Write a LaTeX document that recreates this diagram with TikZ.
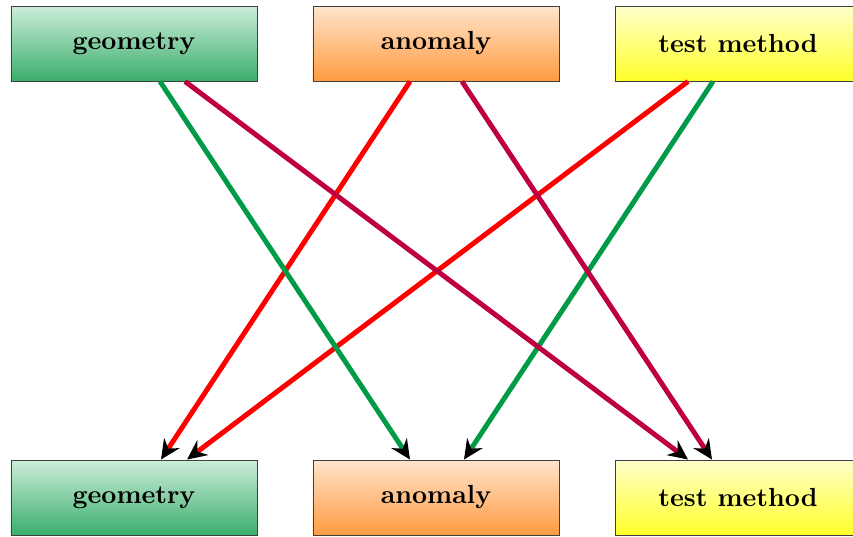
\documentclass[tikz,border=0pt]{standalone}
\usetikzlibrary{arrows.meta,calc}
\definecolor{lgreen}{RGB}{0,155,72}
\definecolor{lred}{RGB}{255,0,0}
\definecolor{lpurple}{RGB}{191,0,64}
\definecolor{gtop}{RGB}{205,237,218}
\definecolor{gbot}{RGB}{58,174,108}
\definecolor{otop}{RGB}{255,228,204}
\definecolor{obot}{RGB}{255,155,64}
\definecolor{ytop}{RGB}{255,255,205}
\definecolor{ybot}{RGB}{255,255,40}
\tikzset{
  box/.style={draw=black!75, line width=0.35pt, minimum width=94pt, minimum height=28.65pt, inner sep=0pt, font=\bfseries},
  gbox/.style={box, top color=gtop, bottom color=gbot},
  obox/.style={box, top color=otop, bottom color=obot},
  ybox/.style={box, top color=ytop, bottom color=ybot},
  link/.style={line width=1.9pt, -{Stealth[black, length=7.5pt, width=7pt, inset=2.5pt]}, shorten >=0pt}
}
\begin{document}
\begin{tikzpicture}[x=0.382pt, y=-0.382pt]
\useasboundingbox (0,0) rectangle (853,536);
\node[gbox] (g1) at (134,43.5) {geometry};
\node[obox] (a1) at (436,43.5) {anomaly};
\node[ybox] (t1) at (738,43.5) {test method};
\node[gbox] (g2) at (134,497.5) {geometry};
\node[obox] (a2) at (436,497.5) {anomaly};
\node[ybox] (t2) at (738,497.5) {test method};
% red
\draw[link, draw=lred] ($(a1.south)+(-26,0)$) -- ($(g2.north)+(27,0)$);
\draw[link, draw=lred] ($(t1.south)+(-50,0)$) -- ($(g2.north)+(53,0)$);
% green
\draw[link, draw=lgreen] ($(g1.south)+(26,0)$) -- ($(a2.north)+(-26,0)$);
\draw[link, draw=lgreen] ($(t1.south)+(-25,0)$) -- ($(a2.north)+(28,0)$);
% purple
\draw[link, draw=lpurple] ($(g1.south)+(51,0)$) -- ($(t2.north)+(-50,0)$);
\draw[link, draw=lpurple] ($(a1.south)+(26,0)$) -- ($(t2.north)+(-26,0)$);
\end{tikzpicture}
\end{document}
